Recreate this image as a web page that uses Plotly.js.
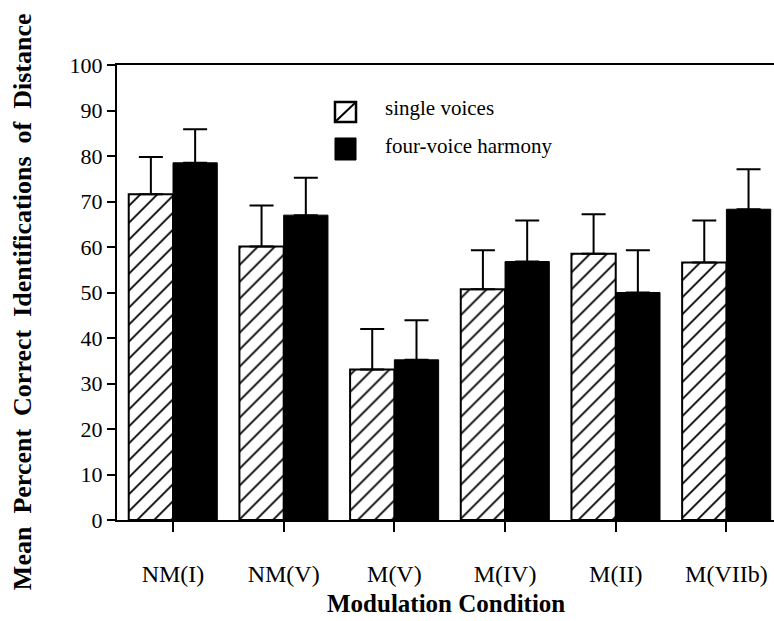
<!DOCTYPE html>
<html>
<head>
<meta charset="utf-8">
<script src="https://cdn.plot.ly/plotly-3.0.1.min.js"></script>
<style>html,body{margin:0;padding:0;background:#fff;}#chart{width:774px;height:621px;}</style>
</head>
<body>
<div id="chart"></div>
<script>
const categories = ["NM(I)", "NM(V)", "M(V)", "M(IV)", "M(II)", "M(VIIb)"];
const singleVoices = [71.6, 60.1, 33.1, 50.7, 58.5, 56.6];
const singleErr = [8.2, 9.0, 8.9, 8.6, 8.7, 9.2];
const fourVoice = [78.5, 67.0, 35.2, 56.8, 50.0, 68.3];
const fourErr = [7.4, 8.2, 8.7, 9.0, 9.3, 8.8];
const yTicks = [0, 10, 20, 30, 40, 50, 60, 70, 80, 90, 100];
const seriesNames = ["single voices", "four-voice harmony"];
const zeros = categories.map(() => 0);

const serif = "'Liberation Serif', 'Times New Roman', serif";

const traces = [
  {
    type: "bar", name: seriesNames[0], x: categories, y: singleVoices,
    marker: {color: "white", line: {color: "black", width: 2},
      pattern: {shape: "/", fgcolor: "black", bgcolor: "white", size: 12, solidity: 0.15}},
    error_y: {type: "data", symmetric: false, array: singleErr, arrayminus: zeros,
      color: "black", thickness: 2, width: 12}
  },
  {
    type: "bar", name: seriesNames[1], x: categories, y: fourVoice,
    marker: {color: "black", line: {color: "black", width: 1}},
    error_y: {type: "data", symmetric: false, array: fourErr, arrayminus: zeros,
      color: "black", thickness: 2, width: 12}
  }
];

// manual legend (paper coordinates)
const lgX0 = 0.3318, lgX1 = 0.3638, lgTextX = 0.4049;
const lgRows = [{y0: 0.8747, y1: 0.9187, ty: 0.9055}, {y0: 0.7912, y1: 0.8396, ty: 0.822}];

const shapes = [
  {type: "rect", xref: "paper", yref: "paper", x0: lgX0, x1: lgX1, y0: lgRows[0].y0, y1: lgRows[0].y1,
    line: {color: "black", width: 2.5}, fillcolor: "white"},
  {type: "line", xref: "paper", yref: "paper", x0: lgX0, x1: lgX1, y0: lgRows[0].y0, y1: lgRows[0].y1,
    line: {color: "black", width: 2}},
  {type: "rect", xref: "paper", yref: "paper", x0: lgX0, x1: lgX1, y0: lgRows[1].y0, y1: lgRows[1].y1,
    line: {color: "black", width: 1}, fillcolor: "black"}
];

const layout = {
  width: 774, height: 621,
  margin: {l: 117, r: 0, t: 65, b: 101},
  paper_bgcolor: "white", plot_bgcolor: "white",
  font: {family: serif, color: "black", size: 21},
  barmode: "group", bargap: 0.2, bargroupgap: 0,
  showlegend: false,
  xaxis: {
    range: [-0.506, 5.43],
    showline: true, linecolor: "black", linewidth: 2, mirror: true,
    ticks: "outside", ticklen: 10, tickwidth: 2, tickcolor: "black",
    ticklabelstandoff: 21,
    showgrid: false, zeroline: false,
    tickfont: {family: serif, size: 24, color: "black"}
  },
  yaxis: {
    range: [0, 100], tickvals: yTicks, ticktext: yTicks.map(String),
    showline: true, linecolor: "black", linewidth: 2,
    ticks: "outside", ticklen: 8, tickwidth: 2, tickcolor: "black",
    showgrid: false, zeroline: false,
    tickfont: {family: serif, size: 22, color: "black"}
  },
  shapes: shapes,
  annotations: [
    {text: seriesNames[0], xref: "paper", yref: "paper", x: lgTextX, y: lgRows[0].ty,
      xanchor: "left", yanchor: "middle", showarrow: false,
      font: {family: serif, size: 21, color: "black"}},
    {text: seriesNames[1], xref: "paper", yref: "paper", x: lgTextX, y: lgRows[1].ty,
      xanchor: "left", yanchor: "middle", showarrow: false,
      font: {family: serif, size: 21, color: "black"}},
    {text: "<b>Modulation Condition</b>", xref: "paper", yref: "paper",
      x: 0.5, y: -0.1846, xanchor: "center", yanchor: "middle", showarrow: false,
      font: {family: serif, size: 25, color: "black"}},
    {text: "<b>Mean\u00a0\u00a0Percent\u00a0\u00a0Correct\u00a0\u00a0Identifications\u00a0\u00a0of\u00a0\u00a0Distance</b>",
      xref: "paper", yref: "paper", x: -0.1446, y: 0.481, xanchor: "center", yanchor: "middle",
      textangle: -90, showarrow: false,
      font: {family: serif, size: 26, color: "black"}}
  ]
};

Plotly.newPlot("chart", traces, layout, {displayModeBar: false, staticPlot: true});
</script>
</body>
</html>
